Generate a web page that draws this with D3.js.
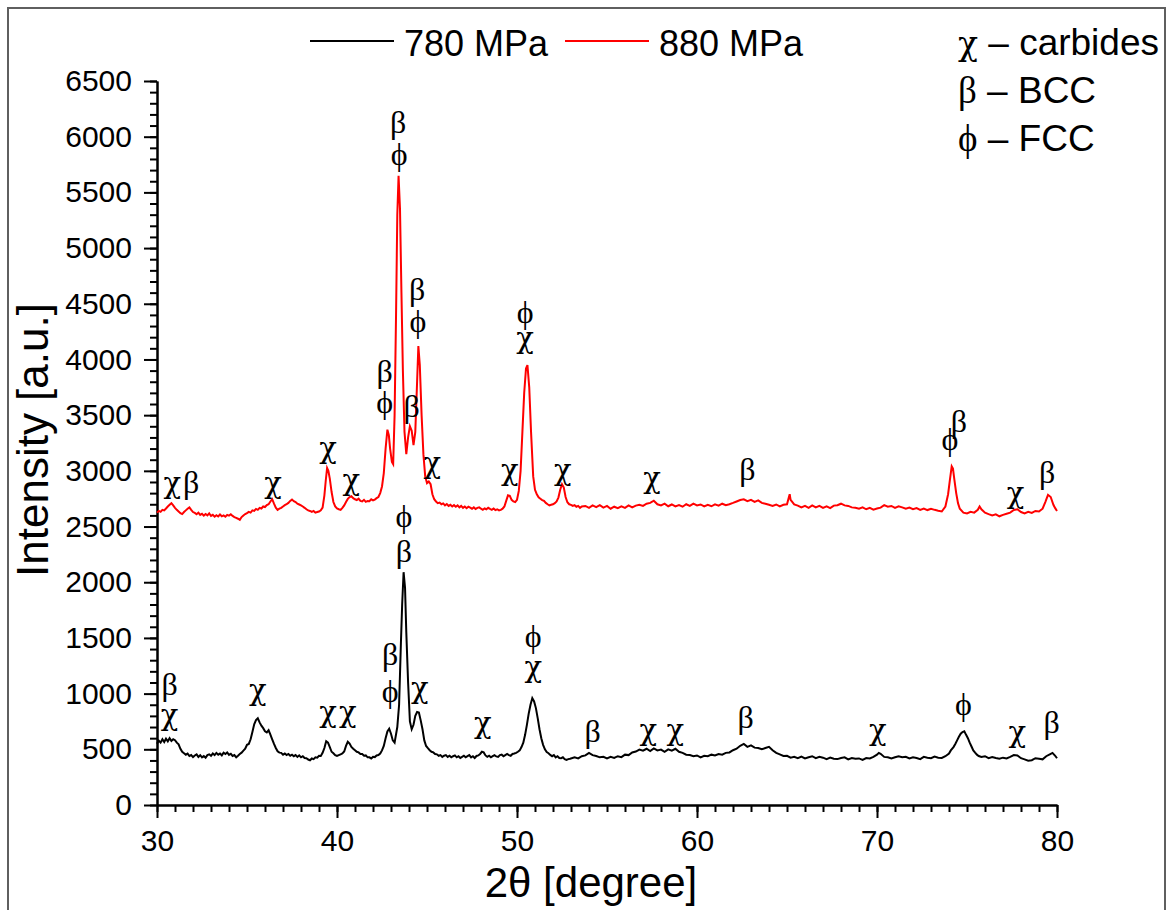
<!DOCTYPE html>
<html>
<head>
<meta charset="utf-8">
<script src="https://cdn.jsdelivr.net/npm/d3@7"></script>
<style>
    body { margin: 0; background: #fff; }
    svg { display: block; }
</style>
</head>
<body>
<div id="d3plot"></div>
<script>
// Data: [2theta, intensity]
// ==================================================================
const series_names = ["780 MPa", "880 MPa"];
const series_colors = ["#000000", "#ff0000"];

const data_780 = [
    [30.0, 550], [30.1, 578], [30.2, 560], [30.3, 590], [30.4, 565], [30.5, 595], [30.6, 572], [30.7, 600],
    [30.8, 575], [30.9, 590], [31.0, 582], [31.1, 560], [31.2, 545], [31.3, 505], [31.4, 478], [31.5, 465],
    [31.6, 452], [31.7, 462], [31.8, 440], [31.9, 448], [32.0, 430], [32.1, 445], [32.2, 455], [32.3, 432],
    [32.4, 447], [32.5, 428], [32.6, 440], [32.7, 425], [32.8, 448], [32.9, 455], [33.0, 442], [33.1, 462],
    [33.2, 448], [33.3, 468], [33.4, 452], [33.5, 462], [33.6, 446], [33.7, 470], [33.8, 458], [33.9, 472],
    [34.0, 450], [34.1, 460], [34.2, 440], [34.3, 448], [34.4, 428], [34.5, 442], [34.6, 458], [34.7, 470],
    [34.8, 488], [34.9, 505], [35.0, 540], [35.1, 548], [35.2, 590], [35.3, 655], [35.4, 725], [35.5, 762],
    [35.6, 778], [35.7, 742], [35.8, 712], [35.9, 690], [36.0, 662], [36.1, 652], [36.2, 672], [36.3, 632],
    [36.4, 590], [36.5, 548], [36.6, 512], [36.7, 482], [36.8, 470], [36.9, 468], [37.0, 452], [37.1, 462],
    [37.2, 448], [37.3, 458], [37.4, 442], [37.5, 452], [37.6, 438], [37.7, 448], [37.8, 432], [37.9, 446],
    [38.0, 428], [38.1, 438], [38.2, 422], [38.3, 420], [38.4, 408], [38.5, 402], [38.6, 418], [38.7, 412],
    [38.8, 428], [38.9, 425], [39.0, 442], [39.1, 440], [39.2, 468], [39.3, 512], [39.4, 572], [39.5, 560],
    [39.6, 520], [39.7, 478], [39.8, 465], [39.9, 448], [40.0, 440], [40.1, 448], [40.2, 455], [40.3, 462],
    [40.4, 480], [40.5, 530], [40.6, 568], [40.7, 552], [40.8, 522], [40.9, 505], [41.0, 492], [41.1, 478],
    [41.2, 472], [41.3, 458], [41.4, 458], [41.5, 442], [41.6, 445], [41.7, 428], [41.8, 428], [41.9, 418],
    [42.0, 432], [42.1, 430], [42.2, 445], [42.3, 448], [42.4, 462], [42.5, 490], [42.6, 530], [42.7, 600],
    [42.8, 660], [42.9, 685], [43.0, 640], [43.1, 580], [43.2, 560], [43.35, 700], [43.45, 900], [43.55, 1450],
    [43.62, 1800], [43.7, 2090], [43.78, 1950], [43.85, 1550], [43.95, 1100], [44.05, 750], [44.15, 680], [44.25, 720],
    [44.35, 800], [44.45, 835], [44.55, 830], [44.65, 760], [44.75, 680], [44.85, 580], [44.95, 530], [45.05, 510],
    [45.15, 492], [45.25, 478], [45.35, 472], [45.45, 458], [45.55, 455], [45.65, 442], [45.75, 448], [45.85, 432],
    [45.95, 442], [46.05, 448], [46.15, 432], [46.25, 442], [46.35, 428], [46.45, 438], [46.55, 445], [46.65, 428],
    [46.75, 438], [46.85, 422], [46.95, 432], [47.05, 442], [47.15, 428], [47.25, 438], [47.35, 448], [47.45, 428],
    [47.55, 438], [47.65, 422], [47.75, 440], [47.85, 445], [47.95, 458], [48.05, 478], [48.15, 472], [48.25, 445],
    [48.35, 432], [48.45, 442], [48.55, 428], [48.65, 438], [48.75, 448], [48.85, 436], [48.95, 432], [49.05, 448],
    [49.15, 452], [49.25, 438], [49.35, 448], [49.45, 458], [49.55, 448], [49.65, 442], [49.75, 458], [49.85, 462],
    [49.95, 468], [50.05, 478], [50.15, 490], [50.25, 520], [50.35, 560], [50.45, 630], [50.55, 720], [50.65, 820],
    [50.75, 900], [50.85, 960], [50.95, 930], [51.05, 870], [51.15, 780], [51.25, 680], [51.35, 600], [51.45, 540],
    [51.55, 500], [51.65, 475], [51.75, 465], [51.85, 450], [51.95, 438], [52.05, 448], [52.15, 428], [52.25, 438],
    [52.35, 422], [52.45, 420], [52.55, 428], [52.65, 412], [52.75, 405], [52.85, 412], [52.95, 415], [53.2, 428],
    [53.4, 418], [53.6, 438], [53.8, 445], [54.0, 468], [54.2, 448], [54.4, 440], [54.6, 428], [54.8, 432],
    [55.0, 418], [55.2, 432], [55.4, 422], [55.6, 438], [55.8, 430], [56.0, 452], [56.2, 448], [56.4, 472],
    [56.6, 480], [56.8, 498], [57.0, 488], [57.2, 505], [57.4, 485], [57.6, 508], [57.8, 490], [58.0, 498],
    [58.2, 478], [58.4, 500], [58.6, 488], [58.8, 505], [59.0, 478], [59.2, 468], [59.4, 452], [59.6, 448],
    [59.8, 438], [60.0, 445], [60.2, 428], [60.4, 442], [60.6, 438], [60.8, 452], [61.0, 445], [61.2, 458],
    [61.4, 452], [61.6, 468], [61.8, 472], [62.0, 492], [62.2, 505], [62.4, 532], [62.6, 548], [62.8, 522],
    [63.0, 535], [63.2, 515], [63.4, 512], [63.6, 500], [63.8, 512], [64.0, 522], [64.2, 492], [64.4, 468],
    [64.6, 455], [64.8, 440], [65.0, 442], [65.2, 425], [65.4, 432], [65.6, 420], [65.8, 435], [66.0, 418],
    [66.2, 428], [66.4, 438], [66.6, 420], [66.8, 432], [67.0, 425], [67.2, 412], [67.4, 425], [67.6, 415],
    [67.8, 412], [68.0, 422], [68.2, 428], [68.4, 410], [68.6, 422], [68.8, 415], [69.0, 418], [69.2, 405],
    [69.4, 422], [69.6, 418], [69.8, 432], [70.0, 452], [70.1, 468], [70.2, 460], [70.4, 432], [70.6, 428],
    [70.8, 418], [71.0, 428], [71.2, 438], [71.4, 428], [71.6, 432], [71.8, 418], [72.0, 428], [72.2, 422],
    [72.4, 412], [72.6, 432], [72.8, 425], [73.0, 420], [73.2, 435], [73.4, 425], [73.6, 422], [73.8, 438],
    [74.0, 462], [74.1, 490], [74.25, 520], [74.35, 548], [74.45, 580], [74.55, 612], [74.65, 640], [74.75, 655],
    [74.85, 662], [74.95, 630], [75.05, 600], [75.15, 560], [75.25, 525], [75.35, 490], [75.45, 470], [75.55, 452],
    [75.65, 440], [75.8, 432], [76.0, 438], [76.2, 420], [76.4, 430], [76.6, 422], [76.8, 415], [77.0, 425],
    [77.2, 418], [77.4, 432], [77.6, 448], [77.8, 445], [78.0, 420], [78.2, 410], [78.4, 398], [78.6, 402],
    [78.8, 420], [79.0, 415], [79.2, 410], [79.4, 438], [79.6, 455], [79.75, 468], [79.9, 442], [80.0, 420]
];

const data_880 = [
    [30.0, 2625], [30.1, 2640], [30.2, 2632], [30.3, 2650], [30.4, 2645], [30.5, 2662], [30.6, 2680], [30.7, 2695],
    [30.8, 2710], [30.9, 2690], [31.0, 2668], [31.1, 2650], [31.2, 2635], [31.3, 2620], [31.4, 2612], [31.5, 2630],
    [31.6, 2645], [31.7, 2660], [31.8, 2672], [31.9, 2650], [32.0, 2630], [32.1, 2622], [32.2, 2610], [32.3, 2625],
    [32.4, 2605], [32.5, 2615], [32.6, 2598], [32.7, 2612], [32.8, 2600], [32.9, 2618], [33.0, 2595], [33.1, 2605],
    [33.2, 2588], [33.3, 2602], [33.4, 2590], [33.5, 2608], [33.6, 2592], [33.7, 2600], [33.8, 2588], [33.9, 2605],
    [34.0, 2598], [34.1, 2610], [34.2, 2595], [34.3, 2585], [34.4, 2578], [34.5, 2570], [34.6, 2560], [34.7, 2585],
    [34.8, 2600], [34.9, 2612], [35.0, 2620], [35.1, 2632], [35.2, 2625], [35.3, 2645], [35.4, 2640], [35.5, 2658],
    [35.6, 2650], [35.7, 2668], [35.8, 2662], [35.9, 2680], [36.0, 2675], [36.1, 2692], [36.2, 2700], [36.3, 2725],
    [36.4, 2745], [36.5, 2705], [36.6, 2670], [36.7, 2650], [36.8, 2660], [36.9, 2668], [37.0, 2680], [37.1, 2692],
    [37.2, 2700], [37.3, 2712], [37.4, 2730], [37.5, 2742], [37.6, 2728], [37.7, 2720], [37.8, 2705], [37.9, 2698],
    [38.0, 2690], [38.1, 2680], [38.2, 2668], [38.3, 2655], [38.4, 2645], [38.5, 2640], [38.6, 2632], [38.7, 2640],
    [38.8, 2625], [38.9, 2630], [39.0, 2635], [39.1, 2645], [39.2, 2670], [39.3, 2780], [39.38, 2920], [39.45, 3025],
    [39.52, 3000], [39.6, 2930], [39.7, 2810], [39.8, 2720], [39.9, 2680], [40.0, 2662], [40.1, 2655], [40.2, 2650],
    [40.3, 2668], [40.4, 2690], [40.5, 2720], [40.6, 2748], [40.7, 2765], [40.8, 2772], [40.9, 2755], [41.0, 2745],
    [41.1, 2738], [41.2, 2750], [41.3, 2730], [41.4, 2725], [41.5, 2740], [41.6, 2722], [41.7, 2730], [41.8, 2728],
    [41.9, 2745], [42.0, 2735], [42.1, 2742], [42.2, 2755], [42.3, 2765], [42.4, 2800], [42.5, 2860], [42.6, 2980],
    [42.7, 3200], [42.8, 3370], [42.88, 3320], [42.95, 3200], [43.05, 3080], [43.12, 3060], [43.2, 3500], [43.28, 4400],
    [43.35, 5300], [43.42, 5650], [43.5, 5350], [43.58, 4600], [43.66, 3900], [43.75, 3350], [43.85, 3150], [43.95, 3300],
    [44.05, 3400], [44.15, 3360], [44.25, 3230], [44.35, 3350], [44.45, 3800], [44.52, 4120], [44.6, 3950], [44.7, 3500],
    [44.8, 3150], [44.9, 2950], [45.0, 2890], [45.1, 2905], [45.2, 2880], [45.3, 2790], [45.4, 2745], [45.5, 2725],
    [45.6, 2710], [45.7, 2715], [45.8, 2700], [45.9, 2708], [46.0, 2690], [46.1, 2702], [46.2, 2685], [46.3, 2695],
    [46.4, 2680], [46.5, 2692], [46.6, 2678], [46.7, 2690], [46.8, 2672], [46.9, 2685], [47.0, 2668], [47.1, 2680],
    [47.2, 2665], [47.3, 2678], [47.4, 2670], [47.5, 2660], [47.6, 2672], [47.7, 2658], [47.8, 2668], [47.9, 2672],
    [48.0, 2660], [48.1, 2650], [48.2, 2662], [48.3, 2655], [48.4, 2668], [48.5, 2658], [48.6, 2650], [48.7, 2662],
    [48.8, 2648], [48.9, 2655], [49.0, 2645], [49.1, 2650], [49.2, 2660], [49.3, 2680], [49.4, 2730], [49.5, 2780],
    [49.6, 2775], [49.7, 2740], [49.8, 2725], [49.9, 2720], [50.0, 2740], [50.1, 2820], [50.2, 3000], [50.3, 3350],
    [50.4, 3700], [50.5, 3920], [50.58, 3950], [50.68, 3750], [50.78, 3350], [50.9, 2950], [51.0, 2830], [51.1, 2790],
    [51.2, 2762], [51.3, 2750], [51.4, 2738], [51.5, 2730], [51.6, 2712], [51.7, 2700], [51.8, 2690], [51.9, 2695],
    [52.0, 2700], [52.1, 2710], [52.2, 2725], [52.3, 2760], [52.4, 2830], [52.5, 2880], [52.6, 2850], [52.7, 2765],
    [52.8, 2718], [52.9, 2700], [53.0, 2695], [53.1, 2685], [53.2, 2692], [53.3, 2678], [53.4, 2685], [53.5, 2668],
    [53.6, 2680], [53.8, 2685], [54.0, 2668], [54.2, 2690], [54.4, 2675], [54.6, 2692], [54.8, 2670], [55.0, 2685],
    [55.2, 2660], [55.4, 2678], [55.6, 2665], [55.8, 2682], [56.0, 2668], [56.2, 2690], [56.4, 2672], [56.6, 2688],
    [56.8, 2695], [57.0, 2685], [57.2, 2705], [57.4, 2712], [57.6, 2732], [57.8, 2700], [58.0, 2690], [58.2, 2705],
    [58.4, 2682], [58.6, 2698], [58.8, 2680], [59.0, 2692], [59.2, 2678], [59.4, 2700], [59.6, 2685], [59.8, 2705],
    [60.0, 2690], [60.2, 2698], [60.4, 2680], [60.6, 2695], [60.8, 2682], [61.0, 2700], [61.2, 2688], [61.4, 2705],
    [61.6, 2692], [61.8, 2700], [62.0, 2712], [62.2, 2725], [62.4, 2738], [62.6, 2745], [62.8, 2728], [63.0, 2740],
    [63.2, 2722], [63.4, 2735], [63.6, 2712], [63.8, 2705], [64.0, 2695], [64.2, 2685], [64.4, 2698], [64.6, 2680],
    [64.8, 2695], [65.0, 2700], [65.1, 2760], [65.15, 2790], [65.2, 2740], [65.4, 2698], [65.6, 2688], [65.8, 2672],
    [66.0, 2685], [66.2, 2668], [66.4, 2690], [66.6, 2672], [66.8, 2685], [67.0, 2668], [67.2, 2682], [67.4, 2665],
    [67.6, 2688], [67.8, 2692], [68.0, 2705], [68.2, 2690], [68.4, 2685], [68.6, 2672], [68.8, 2668], [69.0, 2660],
    [69.2, 2672], [69.4, 2655], [69.6, 2668], [69.8, 2652], [70.0, 2662], [70.2, 2670], [70.4, 2692], [70.6, 2678],
    [70.8, 2685], [71.0, 2668], [71.2, 2682], [71.4, 2672], [71.6, 2660], [71.8, 2670], [72.0, 2655], [72.2, 2665],
    [72.4, 2650], [72.6, 2662], [72.8, 2648], [73.0, 2660], [73.2, 2650], [73.4, 2642], [73.6, 2635], [73.8, 2680],
    [73.95, 2790], [74.05, 2920], [74.15, 3040], [74.22, 3020], [74.3, 2920], [74.4, 2800], [74.5, 2710], [74.6, 2660],
    [74.8, 2625], [75.0, 2618], [75.2, 2632], [75.4, 2625], [75.6, 2650], [75.7, 2680], [75.8, 2655], [76.0, 2625],
    [76.2, 2612], [76.4, 2600], [76.6, 2610], [76.8, 2592], [77.0, 2605], [77.2, 2615], [77.4, 2625], [77.6, 2648],
    [77.8, 2655], [78.0, 2630], [78.2, 2618], [78.4, 2632], [78.6, 2622], [78.8, 2640], [79.0, 2635], [79.2, 2660],
    [79.35, 2720], [79.5, 2785], [79.65, 2765], [79.8, 2695], [79.9, 2665], [80.0, 2640]
];

// Phase labels: [2theta, intensity at text baseline, symbol]
const labels_880 = [
    [30.85, 2801, "χ"], [31.9, 2801, "β"], [36.45, 2801, "χ"], [39.5, 3115, "χ"], [40.8, 2828, "χ"],
    [42.65, 3798, "β"], [42.65, 3519, "ϕ"], [43.4, 6033, "β"], [43.45, 5746, "ϕ"], [44.15, 3483, "β"],
    [44.45, 4534, "β"], [44.5, 4247, "ϕ"], [45.3, 2981, "χ"], [49.6, 2918, "χ"], [50.45, 4328, "ϕ"],
    [50.45, 4103, "χ"], [52.55, 2918, "χ"], [57.5, 2846, "χ"], [62.8, 2918, "β"], [74.05, 3187, "ϕ"],
    [74.55, 3349, "β"], [77.7, 2711, "χ"], [79.45, 2891, "β"]
];
const labels_780 = [
    [30.7, 988, "β"], [30.7, 718, "χ"], [35.6, 943, "χ"], [39.5, 745, "χ"], [40.6, 745, "χ"],
    [42.95, 1257, "β"], [42.95, 925, "ϕ"], [43.72, 2496, "ϕ"], [43.72, 2182, "β"], [44.6, 960, "χ"],
    [48.1, 646, "χ"], [50.9, 1419, "ϕ"], [50.9, 1149, "χ"], [54.2, 566, "β"], [57.3, 584, "χ"],
    [58.8, 584, "χ"], [62.7, 691, "β"], [70.05, 584, "χ"], [74.8, 808, "ϕ"], [77.8, 566, "χ"],
    [79.7, 646, "β"]
];

const phase_symbols = ["χ", "β", "ϕ"];
const phase_names = ["carbides", "BCC", "FCC"];

const x_ticks = [30, 40, 50, 60, 70, 80];
const y_ticks = [0, 500, 1000, 1500, 2000, 2500, 3000, 3500, 4000, 4500, 5000, 5500, 6000, 6500];

// Define paths and global variables
// ==================================================================
const W = 1170, H = 910,
    plot = {left: 157, right: 1057, top: 81, bottom: 805},
    sans = "'Liberation Sans', Arial, sans-serif",
    serif = "'Liberation Serif', 'Times New Roman', serif",
    chi_font = "'DejaVu Serif', serif";

// Scales
// ==================================================================
let xScale = d3.scaleLinear()
    .domain([30, 80])
    .range([plot.left, plot.right]);

let yScale = d3.scaleLinear()
    .domain([0, 6500])
    .range([plot.bottom, plot.top]);

// Add svg
// ==================================================================
let svg = d3.select("#d3plot")
    .append("svg")
        .attr("width", W)
        .attr("height", H);

// outer frame
svg.append("rect")
    .attr("x", 8)
    .attr("y", 8)
    .attr("width", 1157)
    .attr("height", 940)
    .attr("fill", "none")
    .attr("stroke", "#5f5f5f")
    .attr("stroke-width", 2);

// Define functions
// ==================================================================
function greek_font(s) { return s === "χ" ? chi_font : serif; }
function greek_size(s) { return s === "χ" ? "29px" : "32px"; }

function style_axis(g) {
    g.selectAll("path.domain").attr("stroke", "#000").attr("stroke-width", 2);
    g.selectAll(".tick line").attr("stroke", "#000").attr("stroke-width", 2);
    g.selectAll(".tick text")
        .attr("fill", "#000")
        .style("font-family", sans)
        .style("font-size", "30px");
}

function generate_axis() {
    // minor ticks first, majors on top
    svg.append("g")
        .attr("transform", "translate(0," + plot.bottom + ")")
        .call(d3.axisBottom(xScale).ticks(50).tickSize(7).tickSizeOuter(0).tickFormat(""))
        .call(style_axis);

    svg.append("g")
        .attr("transform", "translate(" + plot.left + ",0)")
        .call(d3.axisLeft(yScale).tickValues(d3.range(0, 6501, 100)).tickSize(7).tickSizeOuter(0).tickFormat(""))
        .call(style_axis);

    svg.append("g")
        .attr("transform", "translate(0," + plot.bottom + ")")
        .call(d3.axisBottom(xScale).tickValues(x_ticks).tickSize(13).tickSizeOuter(0).tickPadding(12).tickFormat(d3.format("d")))
        .call(style_axis);

    svg.append("g")
        .attr("transform", "translate(" + plot.left + ",0)")
        .call(d3.axisLeft(yScale).tickValues(y_ticks).tickSize(13).tickSizeOuter(0).tickPadding(12).tickFormat(d3.format("d")))
        .call(style_axis);

    // axis titles
    svg.append("text")
        .attr("x", 591)
        .attr("y", 897)
        .attr("text-anchor", "middle")
        .style("font-family", sans)
        .style("font-size", "42px")
        .text("2θ [degree]");

    svg.append("text")
        .attr("transform", "translate(48,440) rotate(-90)")
        .attr("text-anchor", "middle")
        .style("font-family", sans)
        .style("font-size", "44px")
        .text("Intensity [a.u.]");
}

function draw_lines() {
    let line = d3.line()
        .x(function(d) { return xScale(d[0]); })
        .y(function(d) { return yScale(d[1]); });

    [data_780, data_880].forEach((d, i) => {
        svg.append("path")
            .datum(d)
            .attr("fill", "none")
            .attr("stroke", series_colors[i])
            .attr("stroke-width", 2)
            .attr("stroke-linejoin", "miter")
            .attr("d", line);
    });
}

function draw_labels() {
    svg.selectAll("text.phase")
        .data(labels_880.concat(labels_780))
        .enter()
        .append("text")
            .attr("class", "phase")
            .attr("x", function(d) { return xScale(d[0]); })
            .attr("y", function(d) { return yScale(d[1]); })
            .attr("text-anchor", "middle")
            .style("font-family", function(d) { return greek_font(d[2]); })
            .style("font-size", function(d) { return greek_size(d[2]); })
            .attr("fill", "#000")
            .text(function(d) { return d[2]; });
}

function create_legend() {
    let lx = [310, 565];
    series_names.forEach((name, i) => {
        svg.append("line")
            .attr("x1", lx[i])
            .attr("x2", lx[i] + 84)
            .attr("y1", 41)
            .attr("y2", 41)
            .attr("stroke", series_colors[i])
            .attr("stroke-width", 2);
        svg.append("text")
            .attr("x", lx[i] + 94)
            .attr("y", 56)
            .style("font-family", sans)
            .style("font-size", "36px")
            .text(name);
    });

    phase_symbols.forEach((s, i) => {
        let t = svg.append("text")
            .attr("x", 958)
            .attr("y", 55 + i * 48)
            .style("font-size", "37px");
        t.append("tspan")
            .style("font-family", greek_font(s))
            .style("font-size", s === "χ" ? "33px" : "37px")
            .text(s);
        t.append("tspan").style("font-family", sans).text(" – " + phase_names[i]);
    });
}

// Plot
// ==================================================================
generate_axis();
draw_lines();
draw_labels();
create_legend();
</script>
</body>
</html>
